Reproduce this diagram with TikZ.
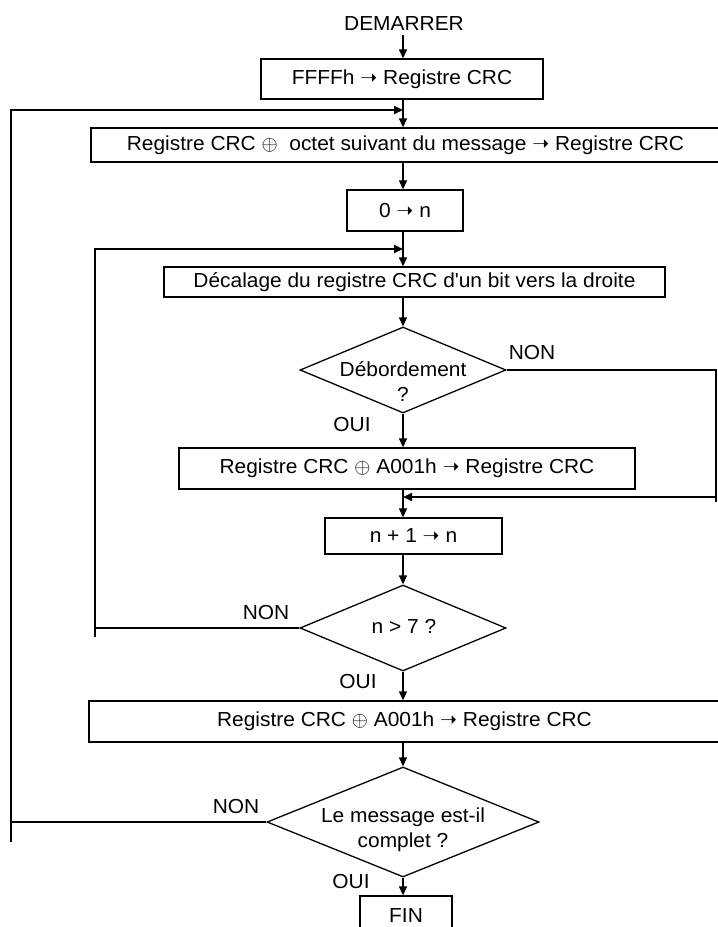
\documentclass[tikz,border=0pt]{standalone}
\usepackage{fontspec}
\setmainfont{Liberation Sans}[FakeStretch=1.03]
\newfontfamily\dejavu{DejaVu Sans}
\newcommand\rarr{{\dejavu ➝}}
\usetikzlibrary{arrows.meta,shapes.geometric}
\begin{document}
\begin{tikzpicture}[x=1pt,y=-1pt,
  every node/.style={font=\fontsize{20.3}{25}\selectfont},
  box/.style={draw,line width=1.3pt,rectangle,inner sep=0pt},
  dia/.style={draw,line width=1.3pt,diamond,inner sep=0pt},
  arr/.style={line width=1.3pt,-{Triangle[length=9pt,width=8pt]}},
  loopline/.style={line width=2pt}]
\useasboundingbox (0,0) rectangle (718,927);
\coordinate (ax) at (403,0);
% nodes
\node (start) at (404,24) {DEMARRER};
\node[box,minimum width=282pt,minimum height=40pt] (b1) at (402,79) {FFFFh \rarr\ Registre CRC};
\node[box,minimum width=629pt,minimum height=34pt] (b2) at (405.5,145) {Registre CRC $\oplus$\ \ octet suivant du message \rarr\ Registre CRC};
\node[box,minimum width=116pt,minimum height=41pt] (b3) at (405,210.5) {0 \rarr\ n};
\node[box,minimum width=501pt,minimum height=30pt] (b4) at (414.5,282) {Décalage du registre CRC d\textquotesingle un bit vers la droite};
\node[dia,minimum width=206pt,minimum height=86pt] (d1) at (403,370) {};
\node[align=center] (d1t) at (403,382) {Débordement\\?};
\node[box,minimum width=456pt,minimum height=41pt] (b5) at (407,468.5) {Registre CRC $\oplus$ A001h \rarr\ Registre CRC};
\node[box,minimum width=177pt,minimum height=36pt] (b6) at (413.5,536) {n + 1 \rarr\ n};
\node[dia,minimum width=206pt,minimum height=86pt] (d2) at (403,628) {};
\node (d2t) at (404,626) {n > 7 ?};
\node[box,minimum width=631pt,minimum height=41pt] (b7) at (404.5,721.5) {Registre CRC $\oplus$ A001h \rarr\ Registre CRC};
\node[dia,minimum width=272pt,minimum height=110pt] (d3) at (403,822) {};
\node[align=center] (d3t) at (403,830) {Le message est-il\\complet ?};
\node[box,minimum width=92pt,minimum height=40pt] (fin) at (406,916) {FIN};
% labels
\node (n1) at (532,353) {NON};
\node (o1) at (352,425) {OUI};
\node (n2) at (266,613) {NON};
\node (o2) at (358,682) {OUI};
\node (n3) at (236,807) {NON};
\node (o3) at (351,882) {OUI};
% main flow
\draw[arr] (start.south -| ax) -- (b1.north -| ax);
\draw[arr] (b1.south -| ax) -- (b2.north -| ax);
\draw[arr] (b2.south -| ax) -- (b3.north -| ax);
\draw[arr] (b3.south -| ax) -- (b4.north -| ax);
\draw[arr] (b4.south -| ax) -- (d1.north);
\draw[arr] (d1.south) -- (b5.north -| ax);
\draw[arr] (b5.south -| ax) -- (b6.north -| ax);
\draw[arr] (b6.south -| ax) -- (d2.north);
\draw[arr] (d2.south) -- (b7.north -| ax);
\draw[arr] (b7.south -| ax) -- (d3.north);
\draw[arr] (d3.south) -- (fin.north -| ax);
% outer loop
\coordinate (l1t) at (11,110);
\coordinate (l1e) at (11,842);
\draw[loopline] (d3.west) -- (d3.west -| l1t);
\draw[arr,loopline] (l1e) -- (l1t) -- (l1t -| ax);
% inner loop
\coordinate (l2t) at (95,249);
\coordinate (l2e) at (95,637);
\draw[loopline] (d2.west) -- (d2.west -| l2t);
\draw[arr,loopline] (l2e) -- (l2t) -- (l2t -| ax);
% overflow bypass
\coordinate (r1m) at (716,497);
\coordinate (r1e) at (716,502);
\draw[loopline] (d1.east) -- (d1.east -| r1e) -- (r1e);
\draw[arr,loopline] (r1m) -- (r1m -| ax);
\end{tikzpicture}
\end{document}
